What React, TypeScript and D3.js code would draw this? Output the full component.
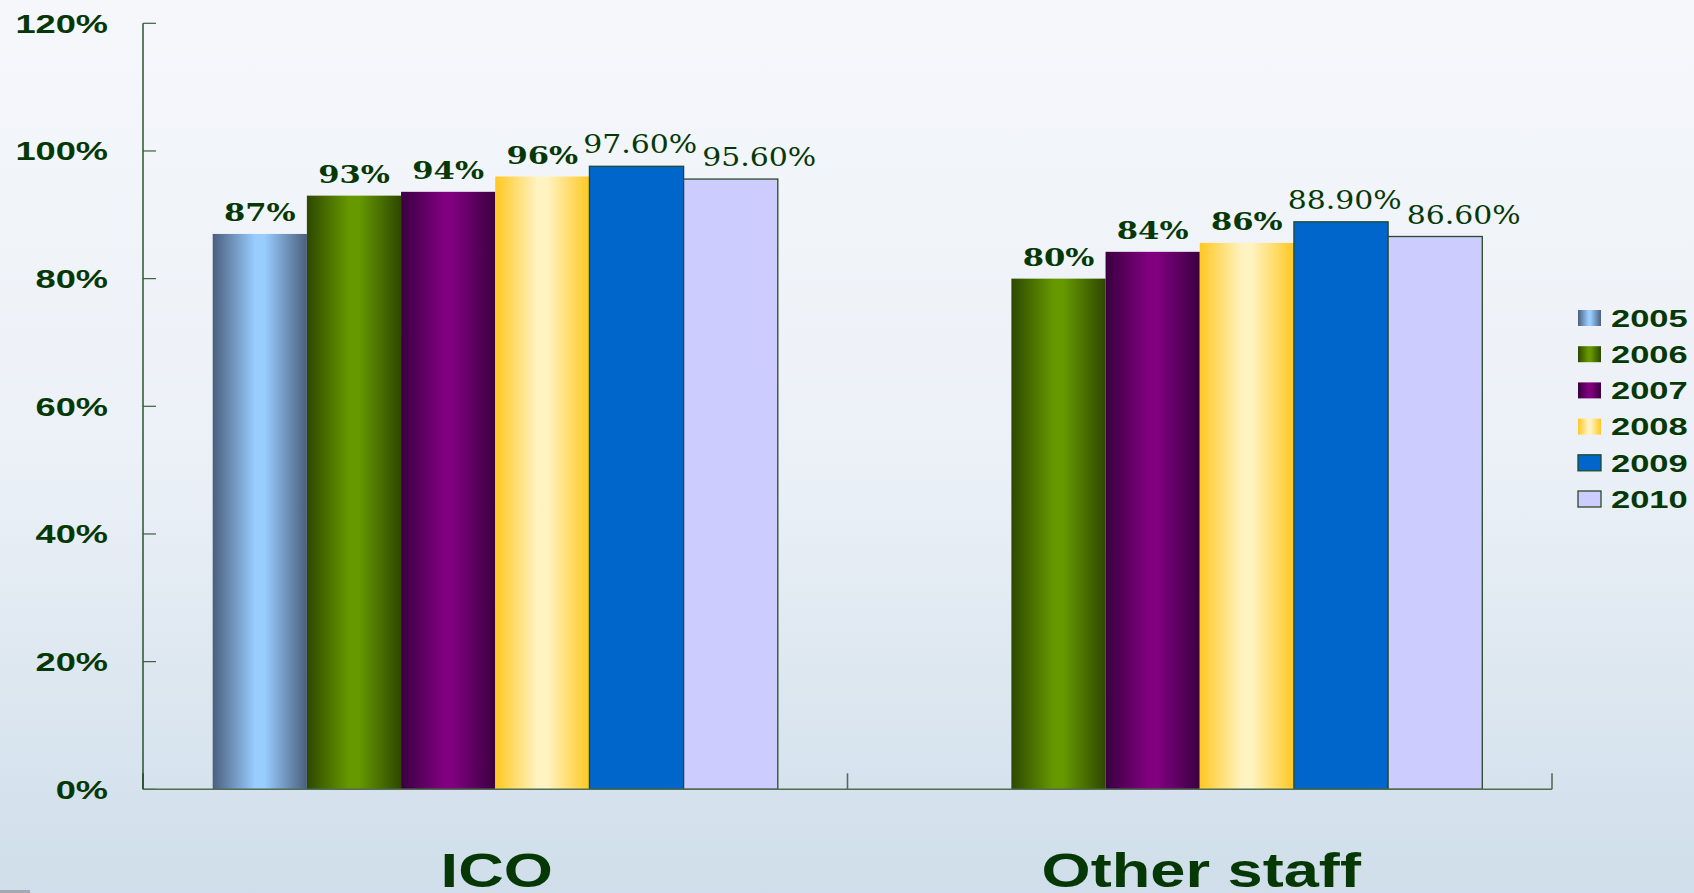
import React, { useEffect, useRef } from 'react';
import * as d3 from 'd3';

const categories = ['ICO', 'Other staff'];
const years = ['2005', '2006', '2007', '2008', '2009', '2010'];
const icoValues: (number | null)[] = [0.87, 0.93, 0.936, 0.96, 0.976, 0.956];
const otherValues: (number | null)[] = [null, 0.8, 0.842, 0.856, 0.889, 0.866];
const icoLabels: (string | null)[] = ['87%', '93%', '94%', '96%', '97.60%', '95.60%'];
const otherLabels: (string | null)[] = [null, '80%', '84%', '86%', '88.90%', '86.60%'];
const yTicks = [0, 0.2, 0.4, 0.6, 0.8, 1.0, 1.2];
const yTickLabels = ['0%', '20%', '40%', '60%', '80%', '100%', '120%'];

const W = 1694;
const H = 893;
const TEXT = '#063806';

type Fill = { edge?: string; mid?: string; solid?: string; stroke?: string };
const fills: Fill[] = [
  { edge: '#4a5f7e', mid: '#99ccff' },
  { edge: '#2e4800', mid: '#669900' },
  { edge: '#3a0040', mid: '#800080' },
  { edge: '#ffc822', mid: '#fff3c2' },
  { solid: '#0066cc', stroke: '#1f4a2a' },
  { solid: '#ccccff', stroke: '#2a4a2a' },
];

export default function App() {
  const ref = useRef<SVGSVGElement | null>(null);

  useEffect(() => {
    const svg = d3.select(ref.current);
    svg.selectAll('*').remove();

    const defs = svg.append('defs');
    const bg = defs.append('linearGradient').attr('id', 'bg').attr('x1', 0).attr('y1', 0).attr('x2', 0).attr('y2', 1);
    bg.append('stop').attr('offset', '0%').attr('stop-color', '#f5f7fb');
    bg.append('stop').attr('offset', '50%').attr('stop-color', '#ecf1f7');
    bg.append('stop').attr('offset', '100%').attr('stop-color', '#cfdeea');

    fills.forEach((f, i) => {
      if (f.solid) return;
      const g = defs.append('linearGradient').attr('id', 'g' + i).attr('x1', 0).attr('y1', 0).attr('x2', 1).attr('y2', 0);
      g.append('stop').attr('offset', '0%').attr('stop-color', f.edge!);
      g.append('stop').attr('offset', '45%').attr('stop-color', f.mid!);
      g.append('stop').attr('offset', '55%').attr('stop-color', f.mid!);
      g.append('stop').attr('offset', '100%').attr('stop-color', f.edge!);
    });
    const fillOf = (i: number) => (fills[i].solid ? fills[i].solid! : `url(#g${i})`);

    svg.append('rect').attr('width', W).attr('height', H).attr('fill', 'url(#bg)');
    svg.append('rect').attr('x', 0).attr('y', 890).attr('width', 30).attr('height', 3).attr('fill', '#a3aab2');

    const x0Left = 143;
    const x0Right = 1552;
    const y0 = 789.3;
    const yTop = 23.3;

    const y = d3.scaleLinear().domain([0, 1.2]).range([y0, yTop]);
    const x0 = d3.scaleBand<string>().domain(categories).range([x0Left, x0Right]).paddingInner(0).paddingOuter(0);
    const x1 = d3.scaleBand<string>().domain(years).range([0, x0.bandwidth()]).paddingInner(0).paddingOuter(0.74);

    const series = [icoValues, otherValues];
    const labels = [icoLabels, otherLabels];

    // bars
    categories.forEach((c, ci) => {
      const g = svg.append('g').attr('transform', `translate(${x0(c)},0)`);
      years.forEach((yr, yi) => {
        const v = series[ci][yi];
        if (v == null) return;
        g.append('rect')
          .attr('x', x1(yr)!)
          .attr('y', y(v))
          .attr('width', x1.bandwidth())
          .attr('height', y0 - y(v))
          .attr('fill', fillOf(yi))
          .attr('stroke', fills[yi].stroke || 'none')
          .attr('stroke-width', 1.3);
      });
    });

    // axes
    svg.append('line').attr('x1', x0Left).attr('x2', x0Right).attr('y1', y0).attr('y2', y0)
      .attr('stroke', '#4f6f55').attr('stroke-width', 1.6);
    [x0Left, x0(categories[1])!, x0Right].forEach((tx) => {
      svg.append('line').attr('x1', tx).attr('x2', tx).attr('y1', y0).attr('y2', y0 - 16)
        .attr('stroke', '#4f6f55').attr('stroke-width', 1.6);
    });
    svg.append('line').attr('x1', x0Left).attr('x2', x0Left).attr('y1', yTop).attr('y2', y0)
      .attr('stroke', '#0d3b12').attr('stroke-width', 1.3);
    yTicks.forEach((t, i) => {
      svg.append('line').attr('x1', x0Left).attr('x2', x0Left + 13).attr('y1', y(t)).attr('y2', y(t))
        .attr('stroke', i === 0 ? '#4f6f55' : '#3d5f42').attr('stroke-width', 1.2);
      svg.append('text')
        .attr('transform', `translate(108,${y(t) + 9.5}) scale(1.42,1)`)
        .attr('text-anchor', 'end')
        .attr('font-family', 'Liberation Sans, Arial')
        .attr('font-weight', 'bold')
        .attr('font-size', 25.5)
        .attr('fill', TEXT)
        .text(yTickLabels[i]);
    });

    // value labels
    categories.forEach((c, ci) => {
      let prevRight = -Infinity;
      years.forEach((yr, yi) => {
        const v = series[ci][yi];
        const lab = labels[ci][yi];
        if (v == null || lab == null) return;
        const decimal = lab.includes('.');
        const sx = decimal ? 1.15 : 1.25;
        const baseY = y(v) - 13;
        let cx = x0(c)! + x1(yr)! + x1.bandwidth() / 2;
        const t = svg.append('text')
          .attr('text-anchor', 'middle')
          .attr('font-family', 'DejaVu Serif')
          .attr('font-weight', decimal ? 'normal' : 'bold')
          .attr('font-size', decimal ? 26 : 24.5)
          .attr('fill', TEXT)
          .text(lab);
        const w = (t.node() as SVGTextElement).getComputedTextLength() * sx;
        if (cx - w / 2 < prevRight + 5) cx = prevRight + 5 + w / 2;
        prevRight = cx + w / 2;
        t.attr('transform', `translate(${cx},${baseY}) scale(${sx},1)`);
      });
    });

    // category labels
    categories.forEach((c) => {
      svg.append('text')
        .attr('transform', `translate(${x0(c)! + x0.bandwidth() / 2 + 1.5},886.7) scale(1.33,1)`)
        .attr('text-anchor', 'middle')
        .attr('font-family', 'Liberation Sans, Arial')
        .attr('font-weight', 'bold')
        .attr('font-size', 47.5)
        .attr('fill', TEXT)
        .text(c);
    });

    // legend
    const ly = d3.scaleLinear().domain([0, years.length - 1]).range([318, 499]);
    years.forEach((yr, i) => {
      const cy = ly(i);
      svg.append('rect').attr('x', 1578).attr('y', cy - 8).attr('width', 23).attr('height', 16)
        .attr('fill', fillOf(i))
        .attr('stroke', fills[i].stroke || 'none').attr('stroke-width', 1.3);
      svg.append('text')
        .attr('transform', `translate(1611,${cy + 8.7}) scale(1.48,1)`)
        .attr('font-family', 'Liberation Sans, Arial')
        .attr('font-weight', 'bold')
        .attr('font-size', 23.3)
        .attr('fill', TEXT)
        .text(yr);
    });
  }, []);

  return (
    <svg
      ref={ref}
      width={W}
      height={H}
      style={{ position: 'absolute', left: 0, top: 0, display: 'block' }}
    />
  );
}
